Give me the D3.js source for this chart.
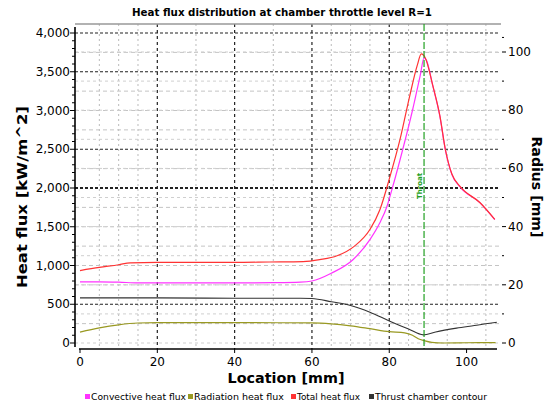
<!DOCTYPE html>
<html><head><meta charset="utf-8">
<script src="https://cdn.jsdelivr.net/npm/d3@7"></script>
<style>body{margin:0;background:#fff;} svg{display:block;font-family:"DejaVu Sans",Verdana,sans-serif;}</style>
</head><body>
<svg id="c" width="553" height="408"></svg>
<script>
// ---- data ----
const title = "Heat flux distribution at chamber throttle level R=1";
const xTicks = [0, 20, 40, 60, 80, 100];
const leftTicks = [0, 500, 1000, 1500, 2000, 2500, 3000, 3500, 4000];
const rightTicks = [0, 20, 40, 60, 80, 100];
const throatX = 89;

const convX = [0, 5, 10, 15, 20, 30, 40, 50, 57, 60, 65, 70.6, 75, 77.6, 79.4, 80.7, 83.5, 86, 88, 89, 89.6, 91.3, 93.1, 94.5, 96.2, 98.3, 103.5, 107.3];
const convY = [790, 790, 785, 775, 775, 775, 775, 778, 785, 800, 900, 1075, 1334, 1554, 1762, 1982, 2500, 3000, 3450, 3680, 3650, 3310, 2925, 2495, 2175, 2015, 1808, 1592];

const totX = [0, 5, 10, 13, 20, 30, 40, 49, 57.7, 62, 66.5, 71, 75, 77.6, 80.2, 82.8, 85.3, 87.2, 88.3, 89.3, 91.3, 93.1, 94.5, 96.2, 98.3, 103.5, 107.3];
const totY = [935, 975, 1010, 1035, 1040, 1040, 1040, 1045, 1050, 1075, 1125, 1250, 1464, 1723, 2150, 2630, 3190, 3575, 3730, 3680, 3315, 2930, 2500, 2180, 2020, 1810, 1595];

const radX = [0, 5, 10, 15, 20, 40, 60, 65, 70, 75, 80, 84, 86, 87.5, 89, 91, 94, 100, 107.5];
const radY = [140, 195, 235, 258, 262, 262, 260, 248, 222, 185, 146, 130, 100, 55, 30, 8, 0, 3, 5];

const contX = [0, 20, 40, 57, 60, 65, 70, 75, 80, 85, 88.8, 92, 97.4, 102, 106, 107.8];
const contY = [15.5, 15.5, 15.4, 15.4, 15.3, 14.2, 12.9, 10.6, 7.6, 4.8, 2.8, 3.8, 5.1, 6.0, 6.8, 7.1];

const legendLabels = ["Convective heat flux", "Radiation heat flux", "Total heat flux", "Thrust chamber contour"];
const colors = ["#ff33ff", "#999922", "#ff3333", "#333333"];

// ---- chart ----
const svg = d3.select("#c");
const x = d3.scaleLinear().domain([0, 108]).range([80, 497.5]);
const yL = d3.scaleLinear().domain([0, 4000]).range([343, 33]);
const yR = d3.scaleLinear().domain([0, 100]).range([343, 52]);
const pTop = 24, pBottom = 349, pLeft = 75, pRight = 500;

// grids
const g = svg.append("g");
const lightV = [5, 10, 15, 30, 50, 65, 70, 75, 85, 95, 105];
const heavyV = [20, 40, 60, 80];
g.selectAll(".lv").data(lightV).join("line")
  .attr("x1", d => x(d)).attr("x2", d => x(d)).attr("y1", pTop).attr("y2", pBottom)
  .attr("stroke", "#bbb").attr("stroke-dasharray", "2,3");
const heavyH = [500, 2000, 2500, 3500, 4000];
const lightH = d3.range(250, 4001, 250).filter(v => !heavyH.includes(v));
g.selectAll(".lh").data(lightH).join("line")
  .attr("x1", pLeft).attr("x2", pRight).attr("y1", d => yL(d)).attr("y2", d => yL(d))
  .attr("stroke", "#c4c4c4").attr("stroke-dasharray", "4,3");
g.selectAll(".rh").data(d3.range(0, 101, 10)).join("line")
  .attr("x1", pLeft).attr("x2", pRight).attr("y1", d => yR(d)).attr("y2", d => yR(d))
  .attr("stroke", "#cfcfcf").attr("stroke-dasharray", "3,3");
g.selectAll(".hv").data(heavyV).join("line")
  .attr("x1", d => x(d)).attr("x2", d => x(d)).attr("y1", pTop).attr("y2", pBottom)
  .attr("stroke", "#222").attr("stroke-width", 1.2).attr("stroke-dasharray", "3,3");
g.selectAll(".hh").data(heavyH).join("line")
  .attr("x1", pLeft).attr("x2", pRight).attr("y1", d => yL(d)).attr("y2", d => yL(d))
  .attr("stroke", "#222").attr("stroke-width", d => d === 2000 ? 1.8 : 1.2).attr("stroke-dasharray", "3,2");
// top border
svg.append("line").attr("x1", pLeft).attr("x2", 501).attr("y1", pTop).attr("y2", pTop)
  .attr("stroke", "#999").attr("stroke-width", 1.5);

// series
function drawLine(xs, ys, yScale, color, w) {
  const pts = xs.map((v, i) => [v, ys[i]]);
  svg.append("path").datum(pts)
    .attr("d", d3.line().x(d => x(d[0])).y(d => yScale(d[1])).curve(d3.curveMonotoneX))
    .attr("fill", "none").attr("stroke", color).attr("stroke-width", w);
}
drawLine(contX, contY, yR, colors[3], 1.1);
drawLine(radX, radY, yL, colors[1], 1.2);
drawLine(convX, convY, yL, colors[0], 1.2);
drawLine(totX, totY, yL, colors[2], 1.2);

// throat line
svg.append("line").attr("x1", x(throatX)).attr("x2", x(throatX)).attr("y1", pTop).attr("y2", pBottom)
  .attr("stroke", "#22a022").attr("stroke-width", 1.2).attr("stroke-dasharray", "7,2");
svg.append("text").attr("transform", `translate(${x(throatX) - 2},186) rotate(-90)`)
  .attr("text-anchor", "middle").attr("font-size", 7).attr("font-weight", "bold")
  .attr("fill", "#22a022").text("Throat");

// left axis
svg.append("line").attr("x1", pLeft).attr("x2", pLeft).attr("y1", 27).attr("y2", 347)
  .attr("stroke", "#000").attr("stroke-width", 1.6);
const la = svg.append("g");
la.selectAll(".mt").data(d3.range(0, 4001, 100)).join("line")
  .attr("x1", d => d % 500 === 0 ? pLeft - 5 : pLeft - 3).attr("x2", pLeft)
  .attr("y1", d => yL(d)).attr("y2", d => yL(d)).attr("stroke", "#000");
la.selectAll("text").data(leftTicks).join("text")
  .attr("x", 70).attr("y", d => yL(d) + 4).attr("text-anchor", "end")
  .attr("font-size", 12).text(d => d3.format(",")(d));

// bottom axis
svg.append("line").attr("x1", 79).attr("x2", 497).attr("y1", pBottom).attr("y2", pBottom)
  .attr("stroke", "#000").attr("stroke-width", 1.6);
const ba = svg.append("g");
ba.selectAll("line").data(xTicks).join("line")
  .attr("x1", d => x(d)).attr("x2", d => x(d)).attr("y1", pBottom).attr("y2", pBottom + 4).attr("stroke", "#000");
ba.selectAll("text").data(xTicks).join("text")
  .attr("x", d => x(d)).attr("y", 366).attr("text-anchor", "middle")
  .attr("font-size", 12).text(d => d);

// right axis
const ra = svg.append("g");
ra.selectAll(".rt").data(rightTicks).join("line")
  .attr("x1", 502).attr("x2", 506).attr("y1", d => yR(d)).attr("y2", d => yR(d)).attr("stroke", "#000");
ra.selectAll(".rm").data([10, 30, 50, 70, 90, 105]).join("line")
  .attr("x1", 502).attr("x2", 504).attr("y1", d => yR(d)).attr("y2", d => yR(d)).attr("stroke", "#000");
ra.selectAll("text").data(rightTicks).join("text")
  .attr("x", 508).attr("y", d => yR(d) + 4).attr("font-size", 12).text(d => d);

// titles
svg.append("text").attr("x", 282).attr("y", 16).attr("text-anchor", "middle")
  .attr("font-size", 10).attr("font-weight", "bold")
  .attr("textLength", 300).attr("lengthAdjust", "spacingAndGlyphs").text(title);
svg.append("text").attr("x", 286).attr("y", 383).attr("text-anchor", "middle")
  .attr("font-size", 14).attr("font-weight", "bold")
  .attr("textLength", 117).attr("lengthAdjust", "spacingAndGlyphs").text("Location [mm]");
svg.append("text").attr("transform", "translate(27,197) rotate(-90)").attr("text-anchor", "middle")
  .attr("font-size", 14).attr("font-weight", "bold")
  .attr("textLength", 182).attr("lengthAdjust", "spacingAndGlyphs").text("Heat flux [kW/m^2]");
svg.append("text").attr("transform", "translate(532,187) rotate(90)").attr("text-anchor", "middle")
  .attr("font-size", 14).attr("font-weight", "bold")
  .attr("textLength", 101).attr("lengthAdjust", "spacingAndGlyphs").text("Radius [mm]");

// legend
const legX = [87, 190, 293, 371];
const legW = [95, 90, 63, 112];
const lg = svg.append("g");
legendLabels.forEach((t, i) => {
  lg.append("rect").attr("x", legX[i] - 2).attr("y", 394).attr("width", 5).attr("height", 5).attr("fill", colors[i]);
  lg.append("text").attr("x", legX[i] + 4).attr("y", 400).attr("font-size", 8.5)
    .attr("textLength", legW[i]).attr("lengthAdjust", "spacingAndGlyphs").text(t);
});
</script>
</body></html>
